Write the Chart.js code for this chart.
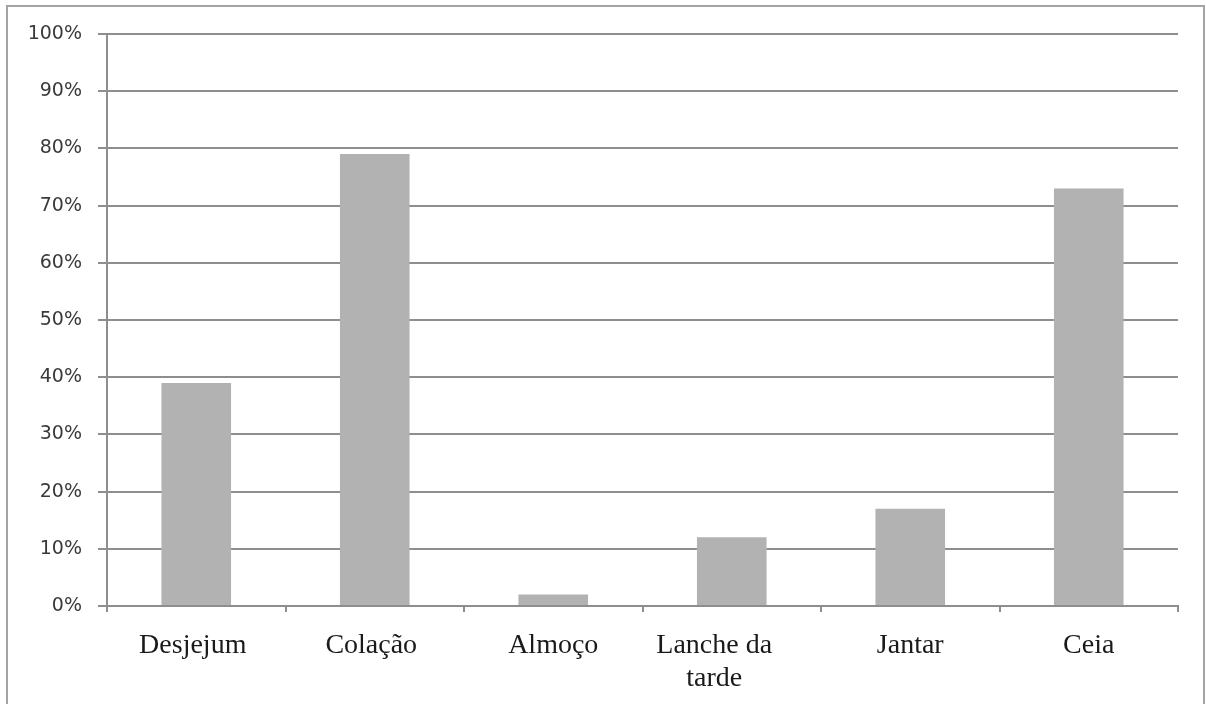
<!DOCTYPE html>
<html>
<head>
<meta charset="utf-8">
<script src="https://cdn.jsdelivr.net/npm/chart.js@4"></script>
<style>
  html, body { margin: 0; padding: 0; background: #ffffff; }
  body { width: 1206px; height: 704px; position: relative; overflow: hidden; }
  #frame {
    position: absolute; left: 6px; top: 5px; width: 1199px; height: 720px;
    border: 2px solid #a4a4a4; box-sizing: border-box;
  }
  #wrap { position: absolute; left: 0; top: 0; width: 1206px; height: 704px; }
</style>
</head>
<body>
<div id="frame"></div>
<div id="wrap"><canvas id="chart" width="1206" height="704"></canvas></div>
<script>
// Refeições e percentual de consumo
const NB = '\u00a0';
const categories = ['Desjejum' + NB, 'Colação' + NB, 'Almoço', ['Lanche da' + NB.repeat(5), 'tarde' + NB.repeat(5)], 'Jantar', 'Ceia'];
const percentValues = [39, 79, 2, 12, 17, 73];
const yTicks = [0, 10, 20, 30, 40, 50, 60, 70, 80, 90, 100];

const gridColor = '#8e8e8e';

new Chart(document.getElementById('chart'), {
  type: 'bar',
  data: {
    labels: categories,
    datasets: [{
      data: percentValues,
      backgroundColor: '#b2b2b2',
      borderWidth: 0,
      categoryPercentage: 1,
      barPercentage: 0.39
    }]
  },
  options: {
    responsive: false,
    animation: false,
    layout: { padding: { top: 34, right: 28, left: 0, bottom: 0 } },
    plugins: { legend: { display: false }, tooltip: { enabled: false } },
    scales: {
      x: {
        offset: true,
        grid: {
          offset: true,
          drawOnChartArea: false,
          drawTicks: true,
          tickLength: 6,
          color: gridColor,
          lineWidth: 2
        },
        border: { color: gridColor, width: 2 },
        ticks: {
          color: '#1a1a1a',
          padding: 17,
          maxRotation: 0,
          autoSkip: false,
          font: { family: '"Liberation Serif", "Times New Roman", serif', size: 28, lineHeight: 1.18 }
        },
        afterFit: (axis) => { axis.height = 98; }
      },
      y: {
        min: 0,
        max: 100,
        afterBuildTicks: (axis) => { axis.ticks = yTicks.map(v => ({ value: v })); },
        grid: {
          color: gridColor,
          lineWidth: 2,
          drawTicks: true,
          tickLength: 9
        },
        border: { color: gridColor, width: 2 },
        ticks: {
          color: '#3a3a3a',
          padding: 16,
          font: { family: '"DejaVu Sans", sans-serif', size: 19 },
          callback: (v) => v + '%'
        },
        afterFit: (axis) => { axis.width = 107; }
      }
    }
  }
});
</script>
</body>
</html>
